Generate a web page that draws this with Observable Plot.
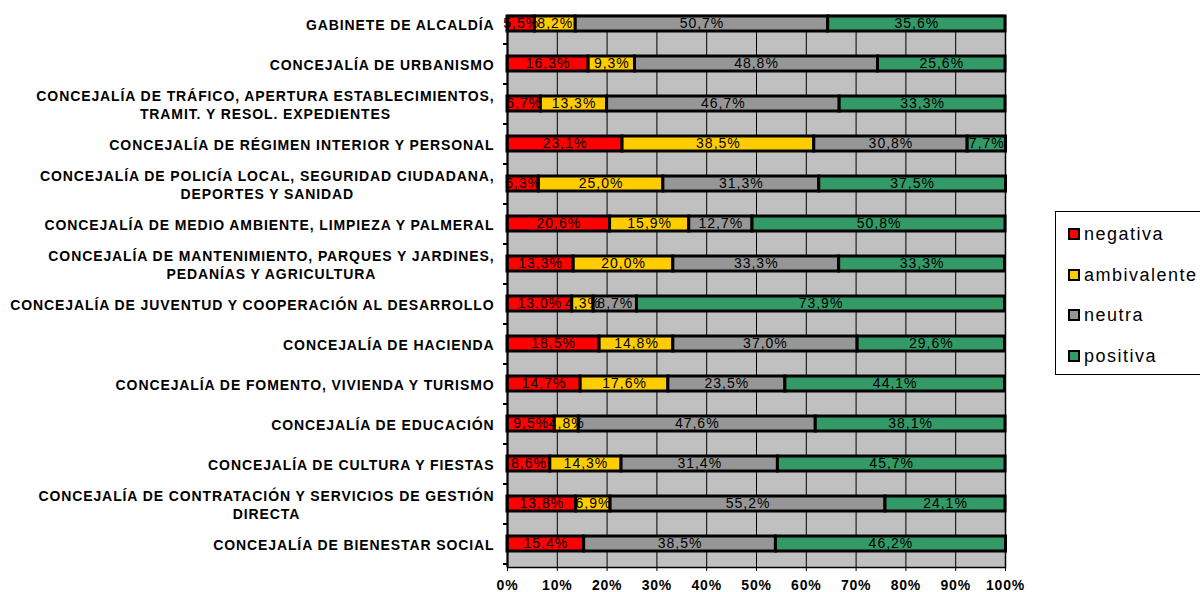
<!DOCTYPE html>
<html>
<head>
<meta charset="utf-8">
<script src="https://cdn.jsdelivr.net/npm/d3@7"></script>
<script src="https://cdn.jsdelivr.net/npm/@observablehq/plot@0.6"></script>
<style>
  html, body { margin: 0; padding: 0; background: #fff; overflow: hidden; }
  #wrap { position: relative; width: 1200px; height: 592px; font-family: "Liberation Sans", Arial, sans-serif; }
  #chart svg { display: block; }
  #chart g[aria-label="text"] text { letter-spacing: 1px; }
  #chart g[aria-label="y-axis tick label"] text { letter-spacing: 0.9px; }
  #chart g[aria-label="x-axis tick label"] text { letter-spacing: 0.8px; }
  #legend { position: absolute; left: 1055px; top: 211px; width: 170px; height: 164px; border: 1px solid #000; background: #fff; box-sizing: border-box; }
  .item { position: absolute; left: 12px; display: flex; align-items: center; font-size: 18px; letter-spacing: 1.5px; color: #000; line-height: 1; }
  .sw { width: 8px; height: 8px; border: 2px solid #000; margin-right: 4px; }
</style>
</head>
<body>
<div id="wrap">
  <div id="chart"></div>
  <div id="legend"></div>
</div>
<script>
const categories = [
  "GABINETE DE ALCALDÍA",
  "CONCEJALÍA DE URBANISMO",
  "CONCEJALÍA DE TRÁFICO, APERTURA ESTABLECIMIENTOS,\nTRAMIT. Y RESOL. EXPEDIENTES",
  "CONCEJALÍA DE RÉGIMEN INTERIOR Y PERSONAL",
  "CONCEJALÍA DE POLICÍA LOCAL, SEGURIDAD CIUDADANA,\nDEPORTES Y SANIDAD",
  "CONCEJALÍA DE MEDIO AMBIENTE, LIMPIEZA Y PALMERAL",
  "CONCEJALÍA DE MANTENIMIENTO, PARQUES Y JARDINES,\nPEDANÍAS Y AGRICULTURA",
  "CONCEJALÍA DE JUVENTUD Y COOPERACIÓN AL DESARROLLO",
  "CONCEJALÍA DE HACIENDA",
  "CONCEJALÍA DE FOMENTO, VIVIENDA Y TURISMO",
  "CONCEJALÍA DE EDUCACIÓN",
  "CONCEJALÍA DE CULTURA Y FIESTAS",
  "CONCEJALÍA DE CONTRATACIÓN Y SERVICIOS DE GESTIÓN\nDIRECTA",
  "CONCEJALÍA DE BIENESTAR SOCIAL"
];
const negativa    = [5.5, 16.3, 6.7, 23.1, 6.3, 20.6, 13.3, 13.0, 18.5, 14.7, 9.5, 8.6, 13.8, 15.4];
const ambivalente = [8.2, 9.3, 13.3, 38.5, 25.0, 15.9, 20.0, 4.3, 14.8, 17.6, 4.8, 14.3, 6.9, 0];
const neutra      = [50.7, 48.8, 46.7, 30.8, 31.3, 12.7, 33.3, 8.7, 37.0, 23.5, 47.6, 31.4, 55.2, 38.5];
const positiva    = [35.6, 25.6, 33.3, 7.7, 37.5, 50.8, 33.3, 73.9, 29.6, 44.1, 38.1, 45.7, 24.1, 46.2];
const seriesNames = ["negativa", "ambivalente", "neutra", "positiva"];
const seriesColors = ["#FF0000", "#FFCC00", "#969696", "#339966"];
const xTicks = [0, 10, 20, 30, 40, 50, 60, 70, 80, 90, 100];

const seriesValues = [negativa, ambivalente, neutra, positiva];
const data = [];
categories.forEach((cat, i) => {
  seriesNames.forEach((s, j) => {
    data.push({cat, serie: s, value: seriesValues[j][i]});
  });
});
const fmt = v => v.toFixed(1).replace(".", ",") + "%";

const chart = Plot.plot({
  width: 1200,
  height: 592,
  marginLeft: 507,
  marginRight: 195,
  marginTop: 15,
  marginBottom: 25,
  style: {fontFamily: '"Liberation Sans", Arial, sans-serif', background: "transparent", color: "#000"},
  x: {domain: [0, 100], label: null},
  y: {domain: categories, range: [16, 567], paddingInner: 0.63, paddingOuter: 0.155, align: 0, label: null},
  color: {domain: seriesNames, range: seriesColors},
  marks: [
    Plot.frame({fill: "#C0C0C0"}),
    Plot.ruleX(xTicks, {stroke: "#000", strokeWidth: 1}),
    Plot.barX(data, Plot.stackX({y: "cat", x: "value", fill: "serie", order: seriesNames, stroke: "#000", strokeWidth: 3})),
    Plot.text(data, Plot.stackX({
      y: "cat", x: "value", z: "serie", order: seriesNames,
      text: d => d.value > 0 ? fmt(d.value) : "",
      fill: "#000", fontSize: 14
    })),
    Plot.ruleY(categories, {y: d => d, dy: 20, x1: 0, x2: 0, insetLeft: -4, stroke: "#000", strokeWidth: 2}),
    Plot.frame({stroke: "#000", strokeWidth: 1.5}),
    Plot.ruleX([0], {stroke: "#000", strokeWidth: 2}),
    Plot.axisX({ticks: xTicks, tickFormat: d => d + "%", tickSize: 4, tickPadding: 9, fontSize: 14, fontWeight: "bold", label: null, stroke: "#000"}),
    Plot.axisY({tickSize: 0, tickPadding: 13, fontSize: 14, fontWeight: "bold", lineHeight: 1.3, label: null})
  ]
});
document.getElementById("chart").appendChild(chart);

// center multi-line category labels as a block that stays right-aligned
chart.querySelectorAll('g[aria-label="y-axis tick label"] text').forEach(t => {
  const spans = t.querySelectorAll("tspan");
  if (spans.length > 1) {
    const w = t.getBBox().width;
    t.setAttribute("text-anchor", "middle");
    spans.forEach(s => s.setAttribute("x", -w / 2));
  }
});

// legend
const legend = document.getElementById("legend");
seriesNames.forEach((s, i) => {
  const item = document.createElement("div");
  item.className = "item";
  item.style.top = (13 + i * 40.5) + "px";
  const sw = document.createElement("div");
  sw.className = "sw";
  sw.style.background = seriesColors[i];
  const lab = document.createElement("span");
  lab.textContent = s;
  item.appendChild(sw);
  item.appendChild(lab);
  legend.appendChild(item);
});
</script>
</body>
</html>
